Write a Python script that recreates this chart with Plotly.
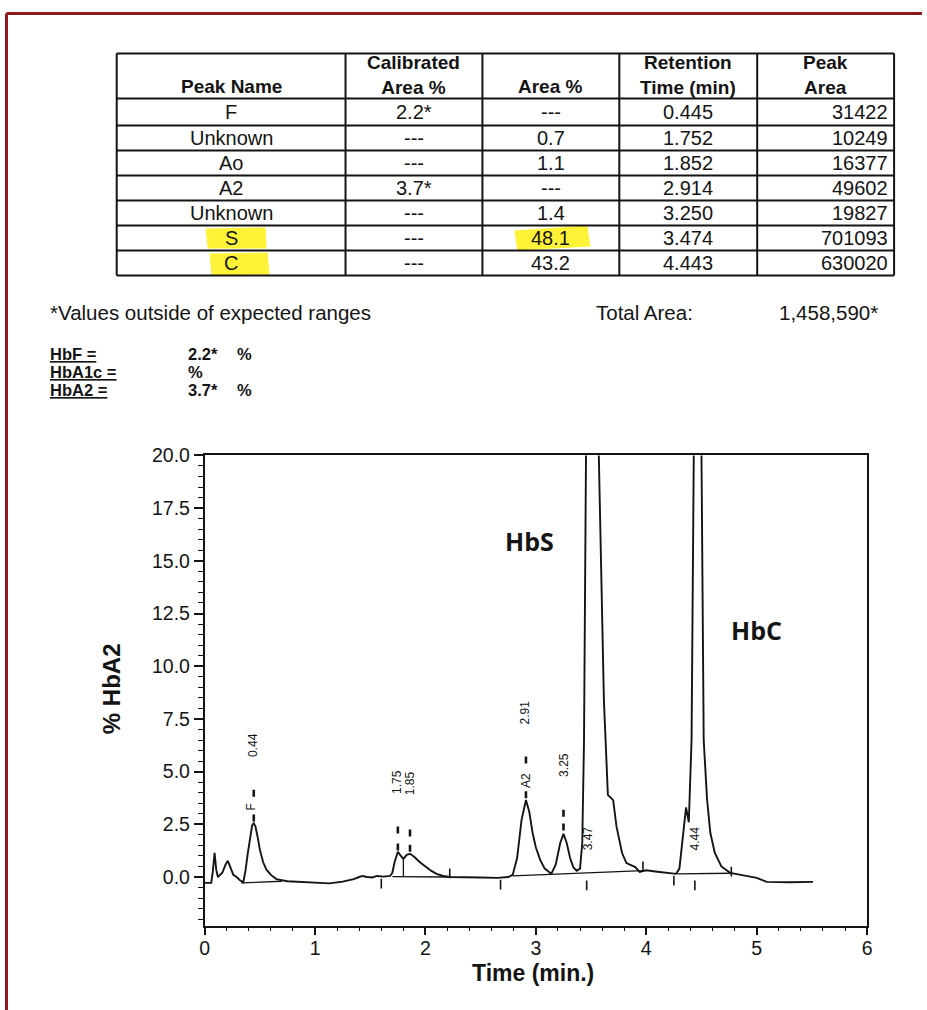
import plotly.graph_objects as go

W, H = 927, 1010

# ---------------- data ----------------
table_headers = ["Peak Name", "Calibrated<br>Area %", "Area %", "Retention<br>Time (min)", "Peak<br>Area"]
peak_names = ["F", "Unknown", "Ao", "A2", "Unknown", "S", "C"]
calibrated_area = ["2.2*", "---", "---", "3.7*", "---", "---", "---"]
area_pct = ["---", "0.7", "1.1", "---", "1.4", "48.1", "43.2"]
retention_time = ["0.445", "1.752", "1.852", "2.914", "3.250", "3.474", "4.443"]
peak_area = ["31422", "10249", "16377", "49602", "19827", "701093", "630020"]

note_text = "*Values outside of expected ranges"
total_area_label = "Total Area:"
total_area_value = "1,458,590*"
summary_names = ["HbF =", "HbA1c =", "HbA2 ="]
summary_values = ["2.2*", "", "3.7*"]

# chromatogram trace (time in min, signal in % HbA2)
trace_time = [0.00, 0.06, 0.075, 0.09, 0.105, 0.12, 0.16, 0.19, 0.21, 0.23, 0.26, 0.29, 0.32, 0.35,
              0.37, 0.39, 0.41, 0.43, 0.445, 0.46, 0.48, 0.50, 0.53, 0.56, 0.60, 0.65, 0.75, 0.90,
              1.05, 1.13, 1.25, 1.35, 1.40, 1.43, 1.47, 1.52, 1.56, 1.62, 1.68, 1.70, 1.72, 1.75,
              1.77, 1.80, 1.83, 1.86, 1.90, 1.95, 2.00, 2.05, 2.10, 2.16, 2.22, 2.35, 2.50, 2.65,
              2.75, 2.79, 2.83, 2.87, 2.91, 2.94, 2.97, 3.00, 3.04, 3.08, 3.14, 3.18, 3.22, 3.25,
              3.28, 3.31, 3.34, 3.37, 3.40, 3.42, 3.436, 3.454, 3.48, 3.57, 3.616, 3.652, 3.70,
              3.73, 3.78, 3.82, 3.90, 3.94, 4.00, 4.10, 4.20, 4.27, 4.30, 4.33, 4.36, 4.385, 4.41,
              4.43, 4.465, 4.50, 4.52, 4.55, 4.58, 4.62, 4.68, 4.76, 4.85, 5.00, 5.09, 5.30, 5.51]
trace_signal = [-0.28, -0.28, 0.3, 1.15, 0.35, 0.0, 0.2, 0.6, 0.77, 0.5, 0.1, 0.0, -0.15, -0.25,
                0.3, 1.1, 1.9, 2.45, 2.55, 2.4, 1.9, 1.3, 0.7, 0.35, 0.1, -0.1, -0.2, -0.25,
                -0.3, -0.3, -0.22, -0.1, 0.0, 0.05, 0.0, -0.02, 0.05, 0.02, 0.05, 0.2, 0.7, 1.2,
                1.05, 0.86, 1.05, 1.1, 0.95, 0.7, 0.5, 0.3, 0.15, 0.05, 0.0, 0.0, -0.02, -0.04,
                0.0, 0.1, 0.9, 2.7, 3.65, 3.1, 2.1, 1.4, 0.8, 0.4, 0.15, 0.6, 1.6, 2.05,
                1.6, 0.9, 0.45, 0.3, 0.4, 1.6, 6.5, 20.0, 40.0, 20.0, 8.4, 3.9, 3.65,
                2.4, 1.15, 0.66, 0.47, 0.24, 0.32, 0.25, 0.18, 0.15, 0.4, 1.9, 3.3, 2.6, 6.5,
                20.0, 44.0, 20.0, 6.5, 3.7, 2.1, 1.15, 0.5, 0.2, 0.1, -0.04, -0.23, -0.25, -0.23]

# integration baselines and drop line (None separates segments)
baseline_time = [0.33, 0.70, None, 1.70, 2.20, None, 1.80, 1.80, None, 2.79, 3.97, None, 4.28, 4.77]
baseline_signal = [-0.28, -0.2, None, 0.02, 0.0, None, 0.86, 0.02, None, 0.05, 0.3, None, 0.15, 0.18]

# event tick marks along the baseline
event_time = [1.60, 2.22, 2.68, 3.46, 3.97, 4.25, 4.44, 4.77]
event_signal = [-0.31, 0.17, -0.36, -0.4, 0.5, -0.17, -0.4, 0.26]

# peak apex marks
apex_time = [0.445, 0.445, 1.75, 1.75, 1.86, 1.86, 2.91, 2.91, 3.25, 3.25]
apex_signal = [3.98, 2.8, 2.23, 1.42, 2.09, 1.37, 5.55, 3.9, 3.03, 2.37]

# rotated peak labels
peak_label_text = ["0.44", "F", "1.75", "1.85", "2.91", "A2", "3.25", "3.47", "4.44"]
peak_label_time = [0.445, 0.42, 1.74, 1.86, 2.90, 2.91, 3.26, 3.475, 4.445]
peak_label_signal = [6.25, 3.3, 4.5, 4.45, 7.8, 4.6, 5.3, 1.85, 1.85]

big_labels = ["HbS", "HbC"]
big_label_time = [2.94, 5.00]
big_label_signal = [15.95, 11.7]

x_ticks = [0, 1, 2, 3, 4, 5, 6]
y_ticks = [0.0, 2.5, 5.0, 7.5, 10.0, 12.5, 15.0, 17.5, 20.0]

# ---------------- helpers ----------------
# small correction so that items land where the reference shows them in the photographed page
AX, BX, AY, BY = 0.99, 5.2, 0.989, 10.6


def fx(p):
    return ((p - BX) / AX) / W


def fy(p):
    return 1 - ((p - BY) / AY) / H


FONT = "Liberation Sans, Arial, Helvetica, sans-serif"
INK = "#141414"

annotations = []
shapes = []


def ann(text, x, y, size, xanchor="center", yanchor="middle", ref="paper", angle=0,
        family=FONT, align="center"):
    if ref == "paper":
        xx, yy, xr, yr = fx(x), fy(y), "paper", "paper"
    else:
        xx, yy, xr, yr = x, y, "x", "y"
    annotations.append(dict(x=xx, y=yy, xref=xr, yref=yr, text=text, showarrow=False,
                            xanchor=xanchor, yanchor=yanchor, textangle=angle, align=align,
                            borderpad=0, font=dict(family=family, size=size, color=INK)))


fig = go.Figure()

fig.add_trace(go.Scatter(x=trace_time, y=trace_signal, mode="lines",
                         line=dict(color=INK, width=1.9), showlegend=False, hoverinfo="skip"))
fig.add_trace(go.Scatter(x=baseline_time, y=baseline_signal, mode="lines",
                         line=dict(color=INK, width=1.3), showlegend=False, hoverinfo="skip",
                         connectgaps=False))
fig.add_trace(go.Scatter(x=event_time, y=event_signal, mode="markers",
                         marker=dict(symbol="line-ns", size=7, line=dict(color=INK, width=1.6)),
                         showlegend=False, hoverinfo="skip"))
fig.add_trace(go.Scatter(x=apex_time, y=apex_signal, mode="markers",
                         marker=dict(symbol="line-ns", size=5, line=dict(color=INK, width=2.6)),
                         showlegend=False, hoverinfo="skip"))

# rotated peak labels
for t, x, y in zip(peak_label_text, peak_label_time, peak_label_signal):
    ann(t, x, y, 12, ref="data", angle=-90)

for t, x, y in zip(big_labels, big_label_time, big_label_signal):
    ann("<b>%s</b>" % t, x, y, 25, ref="data", family="Open Sans, Lato, sans-serif")

# axis titles
ann("<b>% HbA2</b>", 112, 688, 24, angle=-90)
ann("<b>Time (min.)</b>", 534, 972, 23)

# ---------------- table ----------------
col_edges = [117, 346, 483, 620, 758, 895]
row_edges = [53, 98, 125, 150, 175, 200, 225, 250, 275]

# highlighter marks
hl = "rgba(255,240,20,0.85)"


def quad(pts):
    return "M " + " L ".join("%f,%f" % (fx(a), fy(b)) for a, b in pts) + " Z"


for pts in ([(206, 228), (266, 227), (267, 248), (208, 248)],
            [(210, 253), (268, 252), (270, 274), (212, 275)],
            [(515, 230), (588, 225), (591, 246), (518, 250)]):
    shapes.append(dict(type="path", xref="paper", yref="paper", layer="below", line=dict(width=0),
                       fillcolor=hl, path=quad(pts)))

for xe in col_edges:
    shapes.append(dict(type="line", xref="paper", yref="paper", x0=fx(xe), x1=fx(xe),
                       y0=fy(row_edges[0]), y1=fy(row_edges[-1]), line=dict(color=INK, width=2)))
for ye in row_edges:
    shapes.append(dict(type="line", xref="paper", yref="paper", x0=fx(col_edges[0]), x1=fx(col_edges[-1]),
                       y0=fy(ye), y1=fy(ye), line=dict(color=INK, width=2)))

col_centers = [(col_edges[i] + col_edges[i + 1]) / 2 for i in range(5)]
for i, h in enumerate(table_headers):
    yc = 86 if "<br>" not in h else 75
    ann("<b>%s</b>" % h, col_centers[i], yc, 19)

columns = [peak_names, calibrated_area, area_pct, retention_time, peak_area]
for ci, col in enumerate(columns):
    for ri, val in enumerate(col):
        yc = (row_edges[ri + 1] + row_edges[ri + 2]) / 2 + 0.5
        if ci == 4:
            ann(val, 890, yc, 20, xanchor="right")
        else:
            ann(val, col_centers[ci], yc, 20)

# ---------------- report text ----------------
ann(note_text, 49, 312, 20.5, xanchor="left")
ann(total_area_label, 596, 312, 20.5, xanchor="left")
ann(total_area_value, 779, 312, 20.5, xanchor="left")
summary_y = [354, 372, 390]
for n, v, yy in zip(summary_names, summary_values, summary_y):
    ann("<b><u>%s</u></b>" % n, 49, yy, 16.5, xanchor="left")
    if v:
        ann("<b>%s</b>" % v, 187, yy, 16.5, xanchor="left")
        ann("<b>%</b>", 236, yy, 16.5, xanchor="left")
    else:
        ann("<b>%</b>", 187, yy, 16.5, xanchor="left")

# ---------------- frame ----------------
frame = "#8c1a1a"
fl = max(fx(6), 1.5 / W)
ft = min(fy(13), 1 - 1.5 / H)
shapes.append(dict(type="line", xref="paper", yref="paper", x0=fl, x1=fl, y0=0, y1=ft,
                   line=dict(color=frame, width=3)))
shapes.append(dict(type="line", xref="paper", yref="paper", x0=fl, x1=1, y0=ft, y1=ft,
                   line=dict(color=frame, width=3)))

fig.update_layout(
    width=W, height=H,
    margin=dict(l=0, r=0, t=0, b=0),
    paper_bgcolor="white", plot_bgcolor="white",
    showlegend=False,
    annotations=annotations,
    shapes=shapes,
    xaxis=dict(domain=[fx(205), fx(868)], range=[0, 6], tickmode="array", tickvals=x_ticks,
               ticktext=[str(v) for v in x_ticks], ticks="outside", ticklen=8, tickwidth=1.5,
               tickcolor=INK, showline=True, linecolor=INK, linewidth=1.6, mirror=True,
               showgrid=False, zeroline=False, tickfont=dict(family=FONT, size=19.5, color=INK),
               ticklabelstandoff=-4,
               minor=dict(dtick=0.2, tick0=0, ticks="outside", ticklen=4, tickwidth=1.2, tickcolor=INK,
                          showgrid=False),
               fixedrange=True),
    yaxis=dict(domain=[fy(925), fy(455)], range=[-2.3, 20], tickmode="array", tickvals=y_ticks,
               ticktext=["%.1f" % v for v in y_ticks], ticks="outside", ticklen=9, tickwidth=1.5,
               tickcolor=INK, showline=True, linecolor=INK, linewidth=1.6, mirror=True,
               showgrid=False, zeroline=False, tickfont=dict(family=FONT, size=19.5, color=INK),
               minor=dict(dtick=0.5, tick0=0, ticks="outside", ticklen=5, tickwidth=1.2, tickcolor=INK,
                          showgrid=False),
               fixedrange=True),
)

fig.write_html(
    "out.html", config={"displayModeBar": False},
    post_script=("document.documentElement.style.margin='0';"
                 "document.body.setAttribute('style','margin:0;padding:0;overflow:hidden;');"
                 "var d=document.getElementById('{plot_id}');"
                 "d.style.position='absolute';d.style.left='0px';d.style.top='0px';"
                 "window.scrollTo(0,0);"))
